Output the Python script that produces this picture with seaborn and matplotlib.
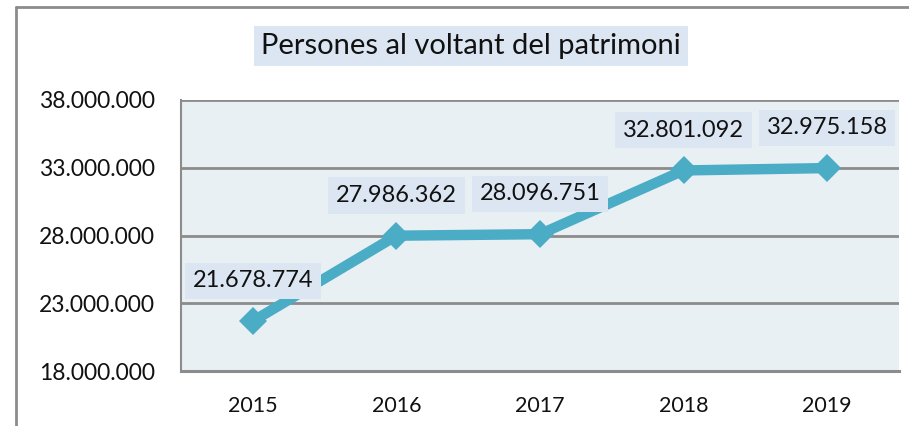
import matplotlib
matplotlib.use("Agg")
import matplotlib.pyplot as plt
import seaborn as sns
import pandas as pd
from matplotlib.lines import Line2D
from matplotlib.ticker import FuncFormatter

years = ["2015", "2016", "2017", "2018", "2019"]
values = [21678774, 27986362, 28096751, 32801092, 32975158]
title = "Persones al voltant del patrimoni"

def fmt(v):
    return f"{int(v):,}".replace(",", ".")

sns.set_style("white")
plt.rcParams["font.family"] = ["Lato", "DejaVu Sans"]

line_color = "#4bacc6"
grid_color = "#8c8c8c"
box_color = "#dce6f2"

fig = plt.figure(figsize=(9.09, 4.26), dpi=100)
ax = fig.add_axes([181 / 909, 1 - 371 / 426, (899 - 181) / 909, (371 - 100) / 426])
ax.set_facecolor("#e9f0f4")

df = pd.DataFrame({"year": years, "value": values})
sns.lineplot(data=df, x="year", y="value", ax=ax, color=line_color, linewidth=7.5,
             marker="D", markersize=14, markeredgewidth=0, sort=False, zorder=3)

ax.set_xlim(-0.5, len(years) - 0.5)
ax.set_ylim(18_000_000, 38_000_000)
ax.set_yticks([18_000_000, 23_000_000, 28_000_000, 33_000_000, 38_000_000])
ax.yaxis.set_major_formatter(FuncFormatter(lambda v, p: fmt(v)))
ax.yaxis.grid(True, color=grid_color, linewidth=2)
ax.set_axisbelow(True)
ax.set_xlabel("")
ax.set_ylabel("")

for s in ["top", "right"]:
    ax.spines[s].set_visible(False)
ax.spines["left"].set_color(grid_color)
ax.spines["left"].set_linewidth(1.5)
ax.spines["bottom"].set_color(grid_color)
ax.spines["bottom"].set_linewidth(2.2)

ax.tick_params(axis="y", direction="out", length=7, width=1.5, color=grid_color,
               labelsize=16.5, labelcolor="#111111", pad=12)
ax.tick_params(axis="x", length=0, labelsize=15.5, labelcolor="#111111", pad=18)

for i, v in enumerate(values):
    ax.annotate(fmt(v), xy=(i, v), xytext=(0, 29), textcoords="offset points",
                ha="center", va="center", fontsize=17, color="#111111", zorder=5,
                bbox=dict(boxstyle="square,pad=0.33", facecolor=box_color, edgecolor="none"))

fig.text(471 / 909, 1 - 46 / 426, title, ha="center", va="center", fontsize=21,
         color="#111111",
         bbox=dict(boxstyle="square,pad=0.25", facecolor=box_color, edgecolor="none"))

# outer chart border (left and top)
fig.add_artist(Line2D([16 / 909, 16 / 909], [0, 1 - 7 / 426], transform=fig.transFigure,
                      color=grid_color, linewidth=2))
fig.add_artist(Line2D([16 / 909, 1], [1 - 7 / 426, 1 - 7 / 426], transform=fig.transFigure,
                      color=grid_color, linewidth=2))

fig.savefig("out.png", dpi=100)
